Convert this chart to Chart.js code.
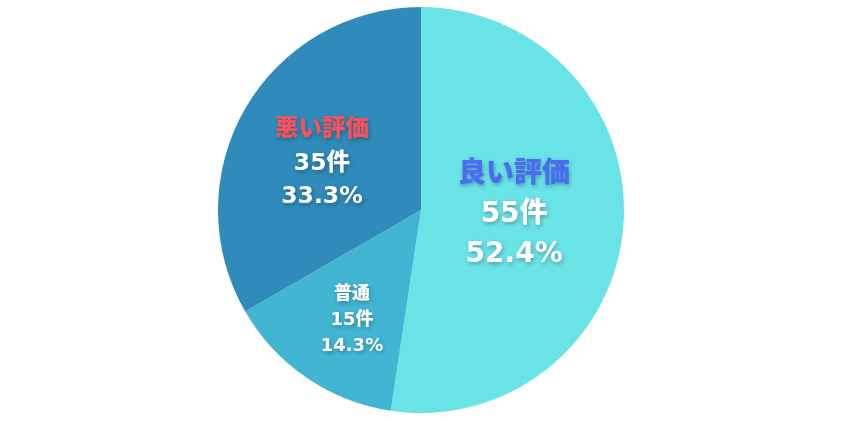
<!DOCTYPE html>
<html><head><meta charset="utf-8">
<script src="https://cdn.jsdelivr.net/npm/chart.js@4"></script>
<style>
html,body{margin:0;padding:0;background:#fff;}
#wrap{width:844px;height:422px;position:relative;}
</style></head>
<body><div id="wrap"><canvas id="c"></canvas></div>
<script>
const categories = ["良い評価", "普通", "悪い評価"];
const counts = [55, 15, 35];
const percentLabels = ["52.4%", "14.3%", "33.3%"];
const sliceColors = ["#6ae3e6", "#42b5d3", "#2e8bba"];
const titleColors = ["#4a6cf2", "#ffffff", "#f4525c"];

const labelStyle = [
  {frac: 0.46, size: 28, gap: 40, dx: 0, dy: -2},
  {frac: 0.63, size: 18, gap: 26, dx: 3, dy: 5},
  {frac: 0.535, size: 23.5, gap: 33.5, dx: -5, dy: 8}
];

const labelPlugin = {
  id: 'sliceLabels',
  afterDatasetsDraw(chart) {
    const ctx = chart.ctx;
    const meta = chart.getDatasetMeta(0);
    meta.data.forEach((arc, i) => {
      const p = arc.getProps(['x','y','startAngle','endAngle','outerRadius'], true);
      const mid = (p.startAngle + p.endAngle) / 2;
      const st = labelStyle[i];
      const r = p.outerRadius * st.frac;
      const cx = p.x + Math.cos(mid) * r + st.dx;
      const cy = p.y + Math.sin(mid) * r + st.dy;
      const lines = [categories[i], counts[i] + "件", percentLabels[i]];
      const colors = [titleColors[i], "#ffffff", "#ffffff"];
      ctx.save();
      ctx.textAlign = 'center';
      ctx.textBaseline = 'middle';
      ctx.font = "900 " + st.size + "px 'DejaVu Sans', 'Noto Sans CJK JP', sans-serif";
      ctx.shadowColor = 'rgba(0,0,0,0.28)';
      ctx.shadowBlur = 4;
      ctx.shadowOffsetX = 1;
      ctx.shadowOffsetY = 2;
      lines.forEach((t, k) => {
        ctx.fillStyle = colors[k];
        ctx.fillText(t, cx, cy + (k - 1) * st.gap);
      });
      ctx.restore();
    });
  }
};

new Chart(document.getElementById('c'), {
  type: 'pie',
  data: {
    labels: categories,
    datasets: [{
      data: counts,
      backgroundColor: sliceColors,
      borderWidth: 0
    }]
  },
  options: {
    responsive: true,
    maintainAspectRatio: false,
    animation: false,
    layout: {padding: {top: 7, bottom: 9, left: 0, right: 2}},
    plugins: {legend: {display: false}, tooltip: {enabled: false}}
  },
  plugins: [labelPlugin]
});
</script>
</body></html>
